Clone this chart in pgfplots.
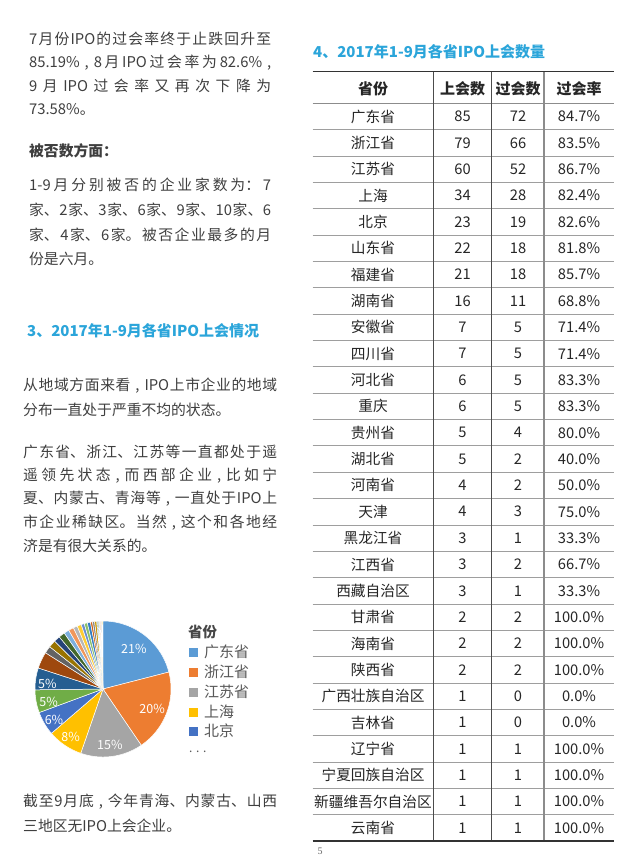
\documentclass[border=0pt]{standalone}
\usepackage{pgfplots}
\pgfplotsset{compat=1.18}
\usepgfplotslibrary{polar}
\usepackage{fontspec}
\setmainfont{Noto Sans CJK SC}
\newfontfamily\pgnumfont{Liberation Serif}
\XeTeXlinebreaklocale "zh"
\XeTeXlinebreakskip=0pt plus 1fil

\definecolor{bodytxt}{HTML}{3F3F3F}
\definecolor{headblue}{HTML}{2BA5DA}
\definecolor{tabtxt}{HTML}{262626}
\definecolor{legtxt}{HTML}{595959}
% Excel-like palette
\definecolor{p1}{HTML}{5B9BD5}\definecolor{p2}{HTML}{ED7D31}
\definecolor{p3}{HTML}{A5A5A5}\definecolor{p4}{HTML}{FFC000}
\definecolor{p5}{HTML}{4472C4}\definecolor{p6}{HTML}{70AD47}
\definecolor{p7}{HTML}{255E91}\definecolor{p8}{HTML}{9E480E}
\definecolor{p9}{HTML}{636363}\definecolor{p10}{HTML}{997300}
\definecolor{p11}{HTML}{264478}\definecolor{p12}{HTML}{43682B}
\definecolor{p13}{HTML}{7CAFDD}\definecolor{p14}{HTML}{F1975A}
\definecolor{p15}{HTML}{B7B7B7}\definecolor{p16}{HTML}{FFCD33}
\definecolor{p17}{HTML}{698ED0}\definecolor{p18}{HTML}{8CC168}
\definecolor{p19}{HTML}{327DC2}\definecolor{p20}{HTML}{D26012}
\definecolor{p21}{HTML}{848484}\definecolor{p22}{HTML}{CC9A00}
\definecolor{p23}{HTML}{3A5FA0}\definecolor{p24}{HTML}{5A8A39}
\definecolor{p25}{HTML}{9DC3E6}\definecolor{p26}{HTML}{F4B183}
\definecolor{p27}{HTML}{C9C9C9}\definecolor{p28}{HTML}{FFD966}

\newcommand\bodyfont{\fontsize{14.8}{17}\selectfont}
\newcommand\headfont{\fontsize{15}{18}\selectfont\bfseries}
% justified single line of given width
\newcommand\jl[3]{\node[anchor=west,inner sep=0pt,text=bodytxt,font=\bodyfont,text width=#2] at (#1) {\noindent\parfillskip=0pt\relax #3\par};}
\newcommand\nl[2]{\node[anchor=west,inner sep=0pt,text=bodytxt,font=\bodyfont] at (#1) {#2};}

% pie slice from a count (total of all counts = 405)
\gdef\cum{0}
\newcommand\slice[2]{%
 \pgfmathsetmacro\sa{90-(\cum/405)*360}%
 \pgfmathsetmacro\cumnew{\cum+#1}%
 \pgfmathsetmacro\sb{90-(\cumnew/405)*360}%
 \pgfmathtruncatemacro\ns{3+#1}%
 \edef\tmp{\noexpand\addplot[fill=#2,draw=white,line width=0.5pt,domain=\sb:\sa,samples=\ns,forget plot] {1} -- (0,0) -- cycle;}%
 \tmp
 \xdef\cum{\cumnew}}

\begin{document}
\begin{tikzpicture}[x=1pt,y=-1pt]
\useasboundingbox[fill=white] (0,0) rectangle (640,868);

% ---------- left column text ----------
\jl{29,39}{242pt}{7月份IPO的过会率终于止跌回升至}
\jl{29,62.5}{242pt}{85.19\% , 8月IPO过会率为82.6\% ,}
\jl{29,86}{242pt}{9月IPO过会率又再次下降为}
\nl{29,109.5}{73.58\%。}
\node[anchor=west,inner sep=0pt,text=bodytxt,font=\fontsize{14.8}{17}\selectfont\bfseries] at (29,151) {被否数方面：};
\jl{29,185}{242pt}{1-9月分别被否的企业家数为：7}
\jl{29,210}{242pt}{家、2家、3家、6家、9家、10家、6}
\jl{29,235}{242pt}{家、4家、6家。被否企业最多的月}
\nl{29,259}{份是六月。}

\node[anchor=west,inner sep=0pt,text=headblue,font=\headfont] at (27,331) {3、2017年1-9月各省IPO上会情况};

\jl{23,386}{254pt}{从地域方面来看 , IPO上市企业的地域}
\nl{23,409.5}{分布一直处于严重不均的状态。}
\jl{23,451.7}{254pt}{广东省、浙江、江苏等一直都处于遥}
\jl{23,475.5}{254pt}{遥领先状态 , 而西部企业 , 比如宁}
\jl{23,499}{254pt}{夏、内蒙古、青海等 , 一直处于IPO上}
\jl{23,522.5}{254pt}{市企业稀缺区。当然 , 这个和各地经}
\nl{23,546}{济是有很大关系的。}

\jl{23,802}{254pt}{截至9月底 , 今年青海、内蒙古、山西}
\nl{23,826}{三地区无IPO上会企业。}

% ---------- pie chart ----------
\begin{scope}[x=1pt,y=1pt]
\begin{polaraxis}[at={(103pt,-689pt)}, anchor=center, scale only axis,
  width=136pt, height=136pt, hide axis, ymin=0, ymax=1, clip=false]
\slice{85}{p1}\slice{79}{p2}\slice{60}{p3}\slice{34}{p4}
\slice{23}{p5}\slice{22}{p6}\slice{21}{p7}\slice{16}{p8}
\slice{7}{p9}\slice{7}{p10}\slice{6}{p11}\slice{6}{p12}
\slice{5}{p13}\slice{5}{p14}\slice{4}{p15}\slice{4}{p16}
\slice{3}{p17}\slice{3}{p18}\slice{3}{p19}\slice{2}{p20}
\slice{2}{p21}\slice{2}{p22}\slice{1}{p23}\slice{1}{p24}
\slice{1}{p25}\slice{1}{p26}\slice{1}{p27}\slice{1}{p28}
\begin{scope}[every node/.style={text=white,font=\fontsize{12.5}{13}\selectfont}]
\node at (axis cs:52.2,0.74) {21\%};
\node at (axis cs:-22,0.78) {20\%};
\node at (axis cs:-83,0.83) {15\%};
\node at (axis cs:-124,0.85) {8\%};
\node at (axis cs:-148,0.85) {6\%};
\node at (axis cs:-167,0.82) {5\%};
\node at (axis cs:175,0.82) {5\%};
\end{scope}
\end{polaraxis}
\end{scope}

% legend
\node[anchor=west,inner sep=0pt,text=legtxt!80!black,font=\fontsize{14.5}{16}\selectfont\bfseries] at (188,632) {省份};
\foreach \c/\t/\yy in {p1/广东省/652, p2/浙江省/672, p3/江苏省/692, p4/上海/712, p5/北京/731}{
  \fill[\c] (189,\yy-4.5) rectangle (198,\yy+4.5);
  \node[anchor=west,inner sep=0pt,text=legtxt,font=\fontsize{15}{16}\selectfont] at (204,\yy) {\t};
}
\node[anchor=west,inner sep=0pt,text=legtxt,font=\fontsize{12}{12}\selectfont] at (189,752) {. . .};

% ---------- right column: table ----------
\node[anchor=west,inner sep=0pt,text=headblue,font=\headfont] at (313,51.7) {4、2017年1-9月各省IPO上会数量};

% horizontal rules
\foreach \i in {1,...,27}{
  \draw[color=black!38,line width=0.8pt] (312.7,{103.3+\i*26.35}) -- (614,{103.3+\i*26.35});
}
\draw[color=black!45,line width=0.8pt] (312.7,103.3) -- (614,103.3);
% vertical rules
\draw[color=black!70,line width=0.7pt] (433.3,71.7) -- (433.3,841);
\draw[color=black!70,line width=0.7pt] (491.7,71.7) -- (491.7,841);
\draw[color=black!45,line width=1.1pt] (544,71.7) -- (544,841);
% top & bottom rules
\draw[color=black!80,line width=1.5pt] (312.7,71.7) -- (614,71.7);
\draw[color=black!80,line width=1.5pt] (312.7,841) -- (614,841);

% header
\begin{scope}[every node/.style={inner sep=0pt,text=tabtxt,font=\fontsize{15}{16}\selectfont\bfseries}]
\node at (373,89) {省份};
\node at (462.5,89) {上会数};
\node at (518,89) {过会数};
\node at (579,89) {过会率};
\end{scope}

% body rows
\begin{scope}[every node/.style={inner sep=0pt,text=tabtxt,font=\fontsize{14.7}{16}\selectfont}]
\foreach \n/\a/\b/\r [count=\i] in {
 广东省/85/72/84.7\%, 浙江省/79/66/83.5\%, 江苏省/60/52/86.7\%, 上海/34/28/82.4\%,
 北京/23/19/82.6\%, 山东省/22/18/81.8\%, 福建省/21/18/85.7\%, 湖南省/16/11/68.8\%,
 安徽省/7/5/71.4\%, 四川省/7/5/71.4\%, 河北省/6/5/83.3\%, 重庆/6/5/83.3\%,
 贵州省/5/4/80.0\%, 湖北省/5/2/40.0\%, 河南省/4/2/50.0\%, 天津/4/3/75.0\%,
 黑龙江省/3/1/33.3\%, 江西省/3/2/66.7\%, 西藏自治区/3/1/33.3\%, 甘肃省/2/2/100.0\%,
 海南省/2/2/100.0\%, 陕西省/2/2/100.0\%, 广西壮族自治区/1/0/0.0\%, 吉林省/1/0/0.0\%,
 辽宁省/1/1/100.0\%, 宁夏回族自治区/1/1/100.0\%, 新疆维吾尔自治区/1/1/100.0\%, 云南省/1/1/100.0\%}{
  \node at (373,{103.3+(\i-0.5)*26.35}) {\n};
  \node at (462.5,{103.3+(\i-0.5)*26.35}) {\a};
  \node at (518,{103.3+(\i-0.5)*26.35}) {\b};
  \node at (579,{103.3+(\i-0.5)*26.35}) {\r};
}
\end{scope}

\node[inner sep=0pt,text=black!60,font=\pgnumfont\fontsize{10}{10}\selectfont] at (320,851) {5};
\end{tikzpicture}
\end{document}
